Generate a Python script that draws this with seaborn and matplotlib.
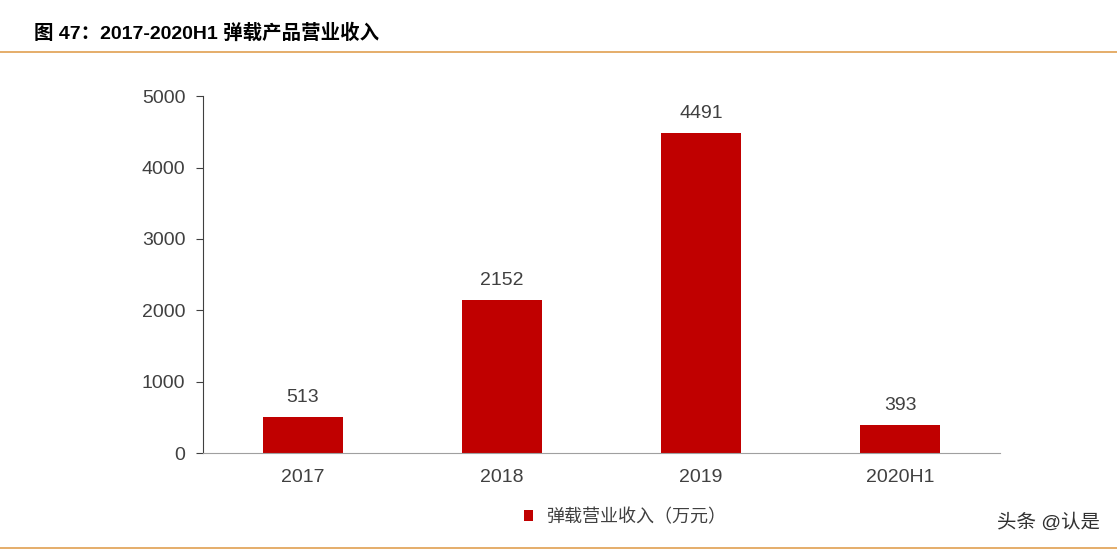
import matplotlib
matplotlib.use("Agg")
import matplotlib.pyplot as plt
import seaborn as sns
import pandas as pd

categories = ["2017", "2018", "2019", "2020H1"]
values = [513, 2152, 4491, 393]
series_name = "弹载营业收入（万元）"
title = "图 47：2017-2020H1 弹载产品营业收入"

sns.set_style("white")
plt.rcParams['font.family'] = ['Liberation Sans', 'Noto Sans CJK SC', 'DejaVu Sans']

df = pd.DataFrame({"cat": categories, "val": values})
fig = plt.figure(figsize=(11.17, 5.56), dpi=100)
ax = fig.add_axes([0.182, 0.185, 0.713, 0.642])
sns.barplot(data=df, x="cat", y="val", color="#C00000", width=0.4, ax=ax,
            saturation=1, label=series_name, linewidth=0)
for i, v in enumerate(values):
    ax.text(i, v + 150, str(v), ha="center", va="bottom", fontsize=14, color="#404040")
ax.set_ylim(0, 5000)
ax.set_yticks(range(0, 5001, 1000))
ax.set_xlim(-0.5, 3.5)
ax.set_xlabel(""); ax.set_ylabel("")
for s in ["top", "right"]:
    ax.spines[s].set_visible(False)
ax.spines["left"].set_color("#404040")
ax.spines["bottom"].set_color("#A0A0A0")
ax.tick_params(axis="y", left=True, length=5, color="#404040", labelsize=14, labelcolor="#404040", pad=8)
ax.tick_params(axis="x", bottom=False, labelsize=14, labelcolor="#404040", pad=8)
ax.legend(loc="upper center", bbox_to_anchor=(0.53, -0.11), frameon=False, fontsize=13,
          handlelength=0.5, handleheight=0.5, labelcolor="#404040")

fig.text(0.03, 0.94, title, fontsize=14, fontweight="bold", va="center", color="black")
fig.add_artist(plt.Line2D([0.0, 1.0], [0.906, 0.906], color="#E0A050", lw=1.2))
fig.add_artist(plt.Line2D([0.0, 1.0], [0.015, 0.015], color="#E0A050", lw=1.2))
fig.text(0.985, 0.06, "头条 @认是", fontsize=14, ha="right", va="center", color="#303030")
fig.savefig("out.png", dpi=100)
